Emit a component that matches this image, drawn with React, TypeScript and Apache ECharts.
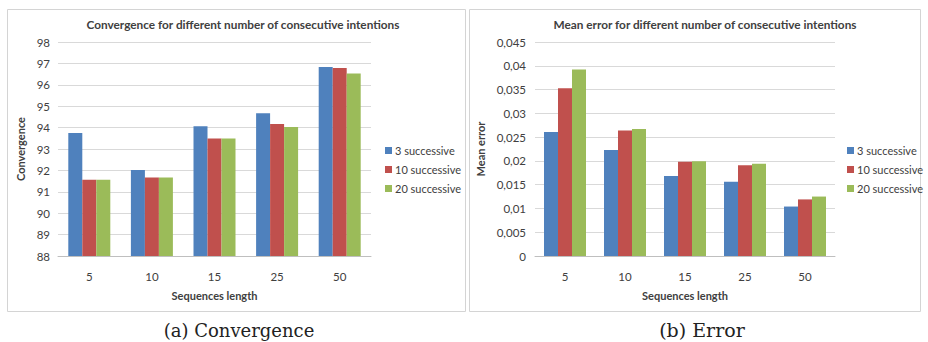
import React, { useEffect, useRef } from "react";
import * as echarts from "echarts";

const categories = ["5", "10", "15", "25", "50"];
const seriesNames = ["3 successive", "10 successive", "20 successive"];
const convergence3 = [93.75, 92.02, 94.06, 94.67, 96.83];
const convergence10 = [91.56, 91.67, 93.49, 94.17, 96.79];
const convergence20 = [91.56, 91.67, 93.49, 94.03, 96.53];
const error3 = [0.0261, 0.0223, 0.0168, 0.0156, 0.0104];
const error10 = [0.0353, 0.0264, 0.0198, 0.0191, 0.0119];
const error20 = [0.0392, 0.0267, 0.0199, 0.0194, 0.0125];
const colors = ["#4F81BD", "#C0504D", "#9BBB59"];

const FONT = "Lato";
const TXT = "#404040";
const SERIF = "'DejaVu Serif', 'Liberation Serif', serif";

export default function App() {
  const ref = useRef<HTMLDivElement>(null);
  useEffect(() => {
    if (!ref.current) return;
    const chart = echarts.init(ref.current, null, { renderer: "svg" });
    const axisCommon = (gridIndex: number) => ({
      type: "category" as const,
      gridIndex,
      data: categories,
      name: "Sequences length",
      nameLocation: "middle" as const,
      nameGap: 34,
      nameTextStyle: { fontFamily: FONT, fontWeight: "bold", fontSize: 11, color: TXT },
      axisLine: { lineStyle: { color: "#BFBFBF" } },
      axisTick: { show: false },
      axisLabel: { fontFamily: FONT, fontSize: 11.5, color: TXT, margin: 14 },
    });
    const legend = (left: number) => ({
      orient: "vertical" as const,
      left,
      top: 140,
      icon: "rect",
      itemWidth: 7,
      itemHeight: 7,
      itemGap: 8,
      data: seriesNames,
      textStyle: { fontFamily: FONT, fontSize: 11, color: TXT, padding: [0, 0, 0, -2] },
    });
    const values = [
      [convergence3, convergence10, convergence20],
      [error3, error10, error20],
    ];
    const series: any[] = [];
    for (let g = 0; g < 2; g++) {
      for (let s = 0; s < 3; s++) {
        series.push({
          type: "bar",
          name: seriesNames[s],
          xAxisIndex: g,
          yAxisIndex: g,
          data: values[g][s],
          barWidth: 14,
          barGap: "0%",
          itemStyle: { color: colors[s] },
        });
      }
    }
    const titleStyle = { fontFamily: FONT, fontWeight: "bold", fontSize: 11.8, color: TXT };
    chart.setOption({
      animation: false,
      backgroundColor: "#FFFFFF",
      title: [
        {
          text: "Convergence for different number of consecutive intentions",
          left: 238,
          top: 13,
          textAlign: "center",
          textStyle: titleStyle,
        },
        {
          text: "Mean error for different number of consecutive intentions",
          left: 700,
          top: 13,
          textAlign: "center",
          textStyle: titleStyle,
        },
      ],
      legend: [legend(380), legend(842)],
      grid: [
        { left: 58, right: 557, top: 42, bottom: 86 },
        { left: 535, right: 93, top: 42, bottom: 86 },
      ],
      xAxis: [axisCommon(0), axisCommon(1)],
      yAxis: [
        {
          type: "value",
          gridIndex: 0,
          min: 88,
          max: 98,
          interval: 1,
          name: "Convergence",
          nameLocation: "middle",
          nameRotate: 90,
          nameGap: 32,
          nameTextStyle: { fontFamily: FONT, fontWeight: "bold", fontSize: 11, color: TXT },
          axisLine: { show: false },
          axisTick: { show: false },
          splitLine: { lineStyle: { color: "#D9D9D9" } },
          axisLabel: { fontFamily: FONT, fontSize: 11.5, color: TXT, margin: 8 },
        },
        {
          type: "value",
          gridIndex: 1,
          min: 0,
          max: 0.045,
          interval: 0.005,
          name: "Mean error",
          nameLocation: "middle",
          nameRotate: 90,
          nameGap: 49,
          nameTextStyle: { fontFamily: FONT, fontWeight: "bold", fontSize: 11, color: TXT },
          axisLine: { show: false },
          axisTick: { show: false },
          splitLine: { lineStyle: { color: "#D9D9D9" } },
          axisLabel: {
            fontFamily: FONT,
            fontSize: 11.5,
            color: TXT,
            margin: 9,
            formatter: (v: number) => String(+v.toFixed(3)).replace(".", ","),
          },
        },
      ],
      series,
      graphic: [
        {
          type: "rect",
          shape: { x: 7.5, y: 9.5, width: 458, height: 302 },
          style: { fill: "none", stroke: "#D4D4D4", lineWidth: 1 },
          z: -1,
        },
        {
          type: "rect",
          shape: { x: 469.5, y: 9.5, width: 451, height: 302 },
          style: { fill: "none", stroke: "#D4D4D4", lineWidth: 1 },
          z: -1,
        },
        {
          type: "text",
          x: 239,
          y: 330,
          style: {
            text: "(a) Convergence",
            fontFamily: SERIF,
            fontSize: 18,
            fill: "#222",
            align: "center",
            verticalAlign: "middle",
          },
        },
        {
          type: "text",
          x: 702,
          y: 330,
          style: {
            text: "(b) Error",
            fontFamily: SERIF,
            fontSize: 19,
            fill: "#222",
            align: "center",
            verticalAlign: "middle",
          },
        },
      ],
    });
    return () => chart.dispose();
  }, []);
  return (
    <div
      ref={ref}
      style={{ position: "fixed", left: 0, top: 0, width: 928, height: 342, background: "#fff" }}
    />
  );
}
